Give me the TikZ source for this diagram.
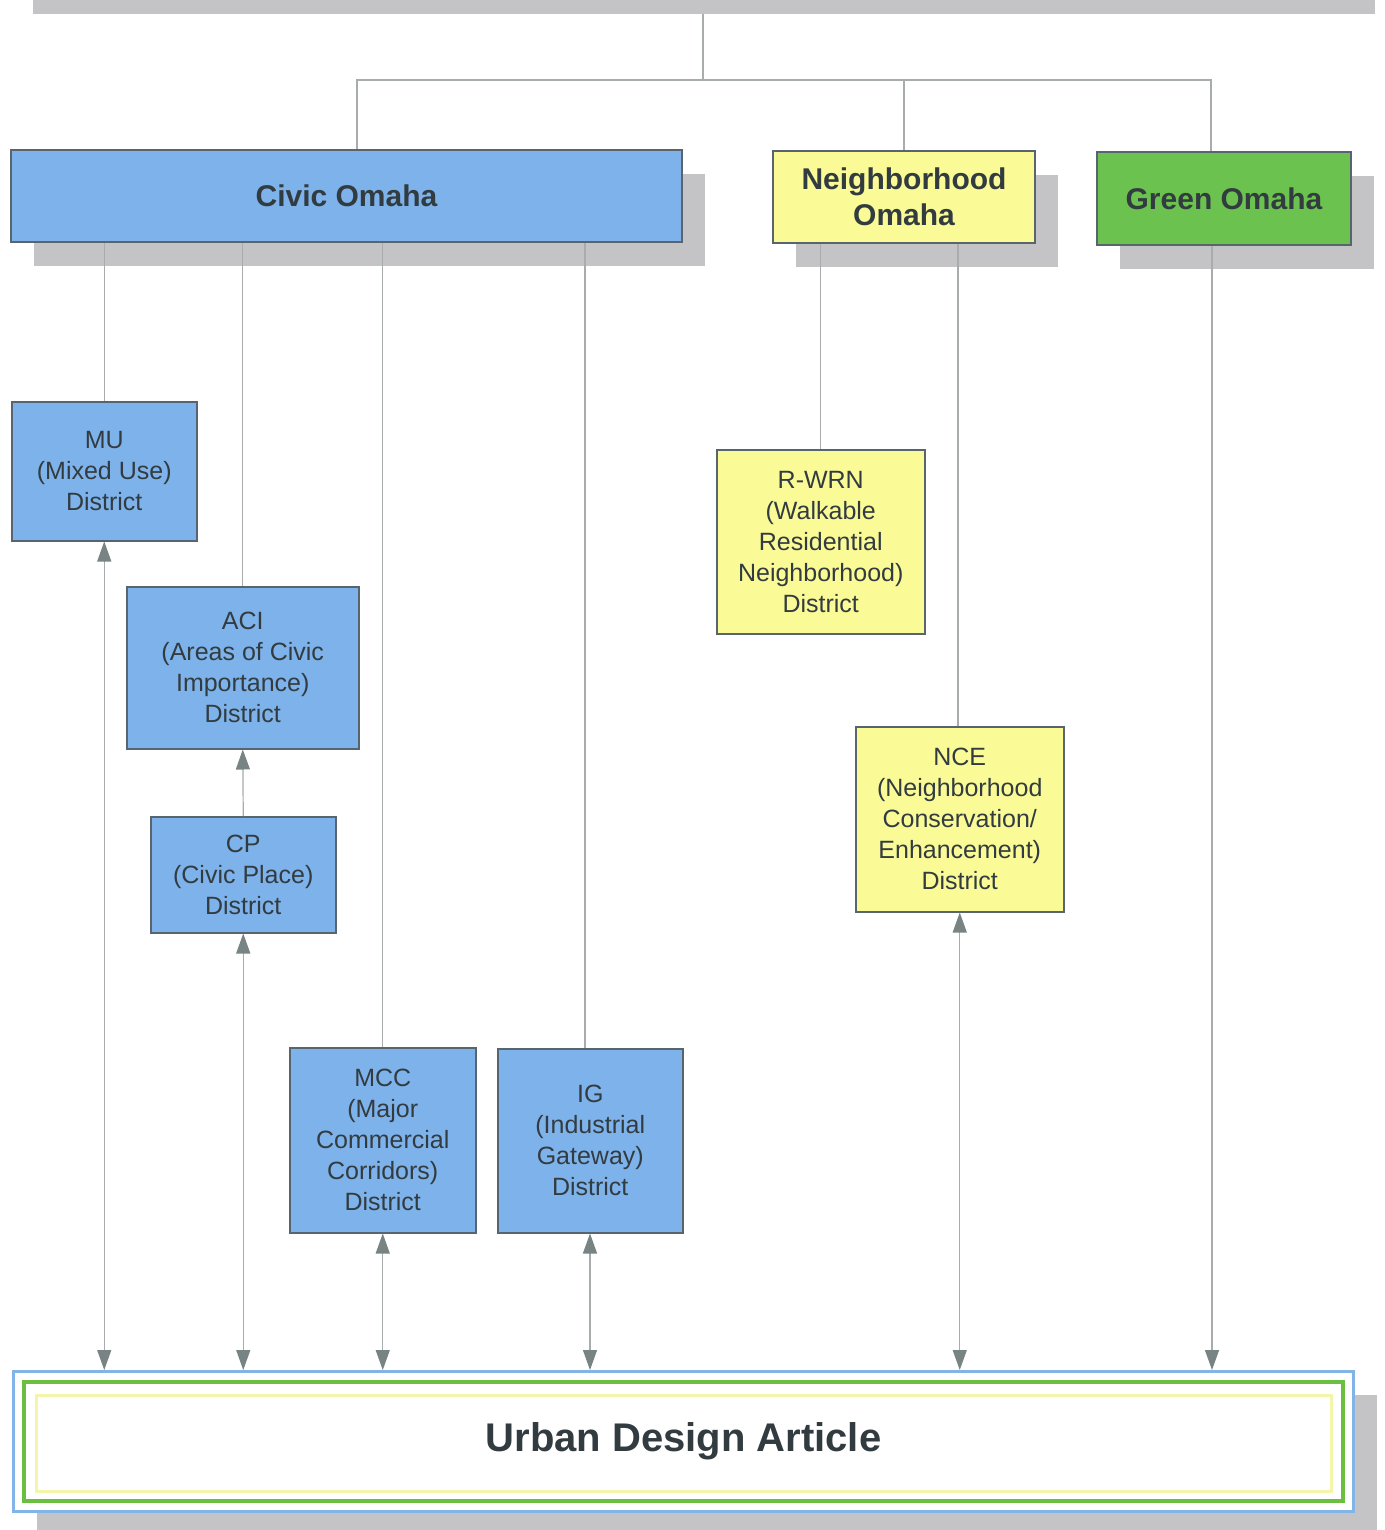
\documentclass[tikz,border=0pt]{standalone}
\usepackage{fontspec}
\setmainfont{Liberation Sans}
\usetikzlibrary{arrows.meta,shadows}
\definecolor{civblue}{RGB}{126,178,234}
\definecolor{nbyellow}{RGB}{250,250,150}
\definecolor{grgreen}{RGB}{108,194,78}
\definecolor{bordc}{RGB}{88,100,110}
\definecolor{txtc}{RGB}{50,60,64}
\definecolor{shadc}{RGB}{196,196,198}
\definecolor{linec}{RGB}{168,172,172}
\definecolor{tipc}{RGB}{120,132,132}
\definecolor{udablue}{RGB}{130,180,232}
\definecolor{udagreen}{RGB}{106,190,64}
\definecolor{udayellow}{RGB}{244,244,170}
\tikzset{
  tipx/.tip={Triangle[width=14pt,length=20pt,color=tipc]},
  catbox/.style={draw=bordc, line width=2pt, font=\bfseries\fontsize{30}{36}\selectfont,
    text=txtc, align=center, inner sep=0pt, anchor=north west,
    drop shadow={shadow xshift=23pt, shadow yshift=-24pt, fill=shadc, opacity=1}},
  distbox/.style={draw=bordc, line width=1.5pt, font=\fontsize{25}{31}\selectfont,
    text=txtc, align=center, inner sep=0pt, anchor=north west},
  conn/.style={draw=linec, line width=1.2pt},
  biarrow/.style={conn, tipx-tipx},
  onearrow/.style={conn, -tipx}
}
\begin{document}
\begin{tikzpicture}[x=1pt,y=-1pt]
\useasboundingbox[fill=white] (0,0) rectangle (1384,1530);
% partial shadow at the top
\fill[shadc] (33,0) rectangle (1375,14);

% category boxes
\node[catbox, fill=civblue, minimum width=671pt, minimum height=92pt] (civic) at (10,149) {Civic Omaha};
\node[catbox, fill=nbyellow, minimum width=262pt, minimum height=92pt] (nbh) at (772,150) {Neighborhood\\Omaha};
\node[catbox, fill=grgreen, minimum width=254pt, minimum height=93pt] (green) at (1096,151) {Green Omaha};

% district boxes
\node[distbox, fill=civblue, minimum width=185pt, minimum height=139pt] (mu) at (11,401) {MU\\(Mixed Use)\\District};
\node[distbox, fill=civblue, minimum width=232pt, minimum height=162pt] (aci) at (126,586) {ACI\\(Areas of Civic\\Importance)\\District};
\node[distbox, fill=civblue, minimum width=185pt, minimum height=116pt] (cp) at (150,816) {CP\\(Civic Place)\\District};
\node[distbox, fill=civblue, minimum width=186pt, minimum height=185pt] (mcc) at (289,1047) {MCC\\(Major\\Commercial\\Corridors)\\District};
\node[distbox, fill=civblue, minimum width=185pt, minimum height=184pt] (ig) at (497,1048) {IG\\(Industrial\\Gateway)\\District};
\node[distbox, fill=nbyellow, minimum width=208pt, minimum height=184pt] (rwrn) at (716,449) {R-WRN\\(Walkable\\Residential\\Neighborhood)\\District};
\node[distbox, fill=nbyellow, minimum width=208pt, minimum height=185pt] (nce) at (855,726) {NCE\\(Neighborhood\\Conservation/\\Enhancement)\\District};

% urban design article
\node[draw=udablue, line width=3pt, fill=white, minimum width=1340pt, minimum height=140pt,
  anchor=north west, inner sep=0pt, text=txtc, font=\bfseries\fontsize{40}{48}\selectfont,
  drop shadow={shadow xshift=23pt, shadow yshift=-23pt, fill=shadc, opacity=1}] (uda) at (12,1370) {Urban Design Article};
\draw[udagreen, line width=4pt] ([xshift=12pt,yshift=-12pt]uda.north west) rectangle ([xshift=-12pt,yshift=12pt]uda.south east);
\draw[udayellow, line width=3pt] ([xshift=24pt,yshift=-25pt]uda.north west) rectangle ([xshift=-24pt,yshift=22pt]uda.south east);

% coordinates for connector columns
\coordinate (topc) at (703,14);
\coordinate (jn) at (703,80);
\coordinate (jl) at (357,80);
\coordinate (jr) at (1211,80);
\coordinate (c585) at (585,0);
\coordinate (c590) at (590,0);
\coordinate (c958) at (958,0);
\coordinate (c1212) at (1212,0);

% top tree
\draw[conn] (topc) -- (jn);
\draw[conn] (civic.north -| jl) -- (jl) -- (jr) -- (green.north -| jr);
\draw[conn] (nbh.north) -- (nbh.north |- jn);

% civic columns
\draw[conn] (civic.south -| mu.north) -- (mu.north);
\draw[conn] (civic.south -| aci.north) -- (aci.north);
\draw[conn] (civic.south -| mcc.north) -- (mcc.north);
\draw[conn] (civic.south -| c585) -- (ig.north -| c585);
% neighborhood columns
\draw[conn] (nbh.south -| rwrn.north) -- (rwrn.north);
\draw[conn] (nbh.south -| c958) -- (nce.north -| c958);

% arrows to the article
\draw[biarrow] (mu.south) -- (mu.south |- uda.north);
\draw[onearrow] (cp.north) -- (aci.south);
\draw[biarrow] (cp.south) -- (cp.south |- uda.north);
\draw[biarrow] (mcc.south) -- (mcc.south |- uda.north);
\draw[biarrow] (ig.south -| c590) -- (uda.north -| c590);
\draw[biarrow] (nce.south) -- (nce.south |- uda.north);
\draw[onearrow] (green.south -| c1212) -- (uda.north -| c1212);
\end{tikzpicture}
\end{document}
